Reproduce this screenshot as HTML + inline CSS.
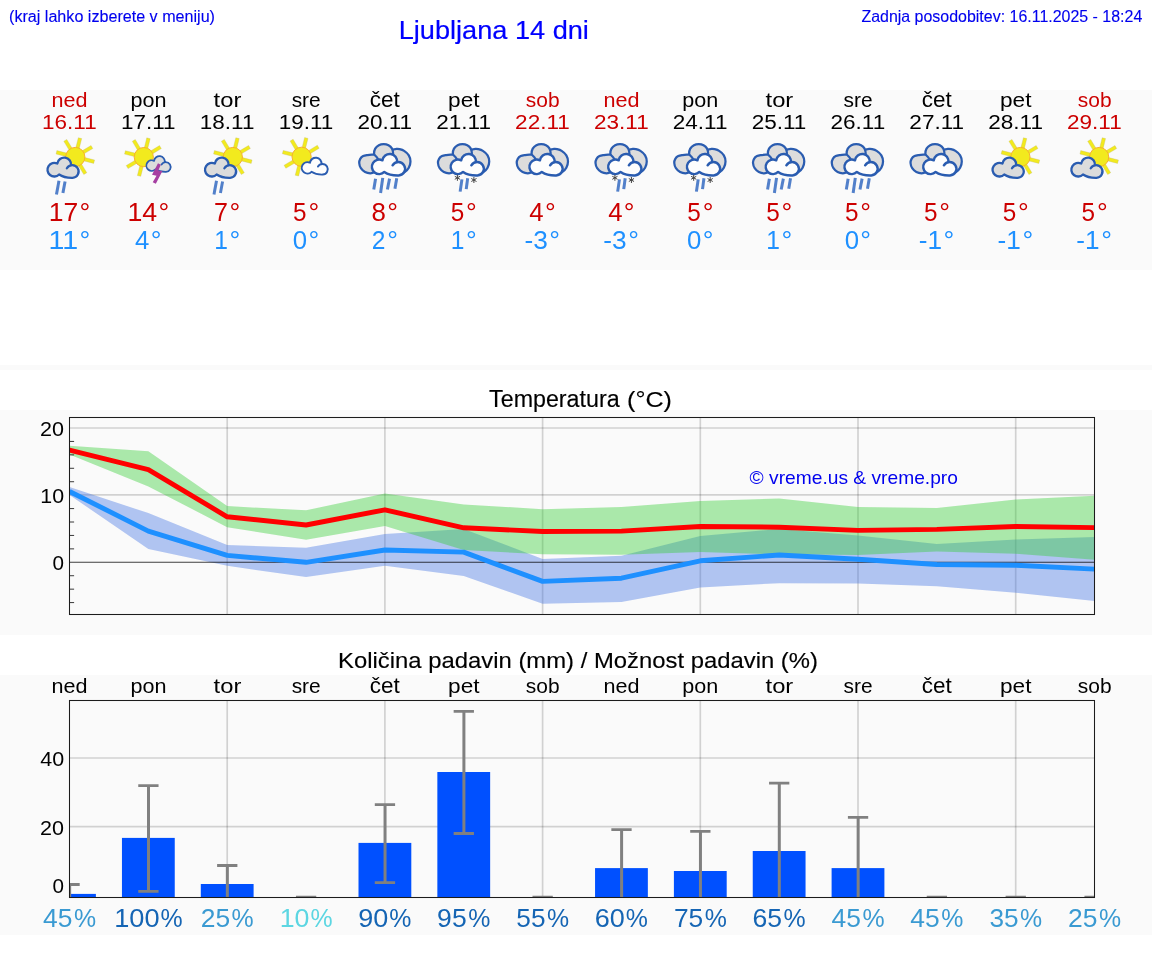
<!DOCTYPE html>
<html lang="sl"><head><meta charset="utf-8"><title>Ljubljana 14 dni</title>
<style>html,body{margin:0;padding:0;background:#fff;}body{width:1152px;height:975px;overflow:hidden;font-family:"Liberation Sans",sans-serif;}svg{display:block;will-change:transform;}</style></head>
<body>
<svg width="1152" height="975" viewBox="0 0 1152 975" font-family="'Liberation Sans', sans-serif">
<rect x="0" y="0" width="1152" height="975" fill="#ffffff"/>
<rect x="0" y="90" width="1152" height="180" fill="#fafafa"/>
<rect x="0" y="365" width="1152" height="5" fill="#fafafa"/>
<rect x="0" y="410" width="1152" height="225" fill="#fafafa"/>
<rect x="0" y="675" width="1152" height="260" fill="#fafafa"/>
<text x="9.03" y="22.00" font-size="16.00" textLength="205.98" lengthAdjust="spacingAndGlyphs" fill="#0000ee" stroke="#0000ee" stroke-width="0.12">(kraj lahko izberete v meniju)</text>
<text x="861.42" y="21.70" font-size="15.86" textLength="280.88" lengthAdjust="spacingAndGlyphs" fill="#0000ee" stroke="#0000ee" stroke-width="0.12">Zadnja posodobitev: 16.11.2025 - 18:24</text>
<text x="398.73" y="39.30" font-size="26.21" textLength="190.17" lengthAdjust="spacingAndGlyphs" fill="#0000ff" stroke="#0000ff" stroke-width="0.2">Ljubljana 14 dni</text>
<text x="489.12" y="407.20" font-size="23.04" textLength="130.46" lengthAdjust="spacingAndGlyphs" fill="#000000" stroke="#000000" stroke-width="0.15">Temperatura</text>
<text x="627.10" y="407.20" font-size="22.34" textLength="44.79" lengthAdjust="spacingAndGlyphs" fill="#000000" stroke="#000000" stroke-width="0.15">(°C)</text>
<text x="338.09" y="667.80" font-size="21.93" textLength="479.85" lengthAdjust="spacingAndGlyphs" fill="#000000" stroke="#000000" stroke-width="0.15">Količina padavin (mm) / Možnost padavin (%)</text>
<text x="51.54" y="106.75" font-size="20.37" textLength="36.02" lengthAdjust="spacingAndGlyphs" fill="#cc0000">ned</text>
<text x="42.13" y="129.25" font-size="20.56" textLength="54.59" lengthAdjust="spacingAndGlyphs" fill="#cc0000">16.11</text>
<text x="48.65" y="221.00" font-size="25.71" textLength="29.51" lengthAdjust="spacingAndGlyphs" fill="#cc0000">17</text>
<text x="79.58" y="221.00" font-size="25.69" textLength="10.75" lengthAdjust="spacingAndGlyphs" fill="#cc0000">°</text>
<text x="48.49" y="249.00" font-size="25.71" textLength="29.66" lengthAdjust="spacingAndGlyphs" fill="#1e90ff">11</text>
<text x="79.58" y="249.00" font-size="25.69" textLength="10.75" lengthAdjust="spacingAndGlyphs" fill="#1e90ff">°</text>
<text x="51.54" y="693.00" font-size="20.37" textLength="36.02" lengthAdjust="spacingAndGlyphs" fill="#000000">ned</text>
<text x="43.04" y="926.50" font-size="25.71" textLength="29.37" lengthAdjust="spacingAndGlyphs" fill="#3a9ad2">45</text>
<text x="73.88" y="926.50" font-size="25.87" textLength="22.13" lengthAdjust="spacingAndGlyphs" fill="#3a9ad2">%</text>
<text x="130.42" y="106.75" font-size="20.17" textLength="36.02" lengthAdjust="spacingAndGlyphs" fill="#000000">pon</text>
<text x="120.98" y="129.25" font-size="20.57" textLength="54.59" lengthAdjust="spacingAndGlyphs" fill="#000000">17.11</text>
<text x="127.48" y="221.00" font-size="25.71" textLength="29.72" lengthAdjust="spacingAndGlyphs" fill="#cc0000">14</text>
<text x="158.43" y="221.00" font-size="25.69" textLength="10.75" lengthAdjust="spacingAndGlyphs" fill="#cc0000">°</text>
<text x="135.11" y="249.00" font-size="25.71" textLength="14.33" lengthAdjust="spacingAndGlyphs" fill="#1e90ff">4</text>
<text x="150.70" y="249.00" font-size="25.69" textLength="10.75" lengthAdjust="spacingAndGlyphs" fill="#1e90ff">°</text>
<text x="130.42" y="693.00" font-size="20.17" textLength="36.02" lengthAdjust="spacingAndGlyphs" fill="#000000">pon</text>
<text x="114.24" y="926.50" font-size="25.69" textLength="45.38" lengthAdjust="spacingAndGlyphs" fill="#1565b4">100</text>
<text x="160.46" y="926.50" font-size="25.87" textLength="22.13" lengthAdjust="spacingAndGlyphs" fill="#1565b4">%</text>
<text x="213.58" y="106.75" font-size="20.94" textLength="27.78" lengthAdjust="spacingAndGlyphs" fill="#000000">tor</text>
<text x="199.83" y="129.25" font-size="20.56" textLength="54.59" lengthAdjust="spacingAndGlyphs" fill="#000000">18.11</text>
<text x="214.08" y="221.00" font-size="25.71" textLength="13.96" lengthAdjust="spacingAndGlyphs" fill="#cc0000">7</text>
<text x="229.55" y="221.00" font-size="25.69" textLength="10.75" lengthAdjust="spacingAndGlyphs" fill="#cc0000">°</text>
<text x="214.22" y="249.00" font-size="25.71" textLength="13.67" lengthAdjust="spacingAndGlyphs" fill="#1e90ff">1</text>
<text x="229.55" y="249.00" font-size="25.69" textLength="10.75" lengthAdjust="spacingAndGlyphs" fill="#1e90ff">°</text>
<text x="213.58" y="693.00" font-size="20.94" textLength="27.78" lengthAdjust="spacingAndGlyphs" fill="#000000">tor</text>
<text x="200.69" y="926.50" font-size="25.69" textLength="29.42" lengthAdjust="spacingAndGlyphs" fill="#3a9ad2">25</text>
<text x="231.58" y="926.50" font-size="25.87" textLength="22.13" lengthAdjust="spacingAndGlyphs" fill="#3a9ad2">%</text>
<text x="291.66" y="106.75" font-size="20.17" textLength="29.06" lengthAdjust="spacingAndGlyphs" fill="#000000">sre</text>
<text x="278.68" y="129.25" font-size="20.56" textLength="54.59" lengthAdjust="spacingAndGlyphs" fill="#000000">19.11</text>
<text x="293.09" y="221.00" font-size="25.71" textLength="13.51" lengthAdjust="spacingAndGlyphs" fill="#cc0000">5</text>
<text x="308.40" y="221.00" font-size="25.69" textLength="10.75" lengthAdjust="spacingAndGlyphs" fill="#cc0000">°</text>
<text x="292.79" y="249.00" font-size="25.69" textLength="14.37" lengthAdjust="spacingAndGlyphs" fill="#1e90ff">0</text>
<text x="308.40" y="249.00" font-size="25.69" textLength="10.75" lengthAdjust="spacingAndGlyphs" fill="#1e90ff">°</text>
<text x="291.66" y="693.00" font-size="20.17" textLength="29.06" lengthAdjust="spacingAndGlyphs" fill="#000000">sre</text>
<text x="279.71" y="926.50" font-size="25.69" textLength="29.75" lengthAdjust="spacingAndGlyphs" fill="#5cd6e2">10</text>
<text x="310.43" y="926.50" font-size="25.87" textLength="22.13" lengthAdjust="spacingAndGlyphs" fill="#5cd6e2">%</text>
<text x="369.82" y="106.75" font-size="21.45" textLength="29.98" lengthAdjust="spacingAndGlyphs" fill="#000000">čet</text>
<text x="357.41" y="129.25" font-size="20.56" textLength="54.72" lengthAdjust="spacingAndGlyphs" fill="#000000">20.11</text>
<text x="371.63" y="221.00" font-size="25.69" textLength="14.38" lengthAdjust="spacingAndGlyphs" fill="#cc0000">8</text>
<text x="387.25" y="221.00" font-size="25.69" textLength="10.75" lengthAdjust="spacingAndGlyphs" fill="#cc0000">°</text>
<text x="371.69" y="249.00" font-size="25.69" textLength="13.67" lengthAdjust="spacingAndGlyphs" fill="#1e90ff">2</text>
<text x="387.25" y="249.00" font-size="25.69" textLength="10.75" lengthAdjust="spacingAndGlyphs" fill="#1e90ff">°</text>
<text x="369.82" y="693.00" font-size="21.45" textLength="29.98" lengthAdjust="spacingAndGlyphs" fill="#000000">čet</text>
<text x="358.26" y="926.50" font-size="25.69" textLength="30.06" lengthAdjust="spacingAndGlyphs" fill="#1565b4">90</text>
<text x="389.28" y="926.50" font-size="25.87" textLength="22.13" lengthAdjust="spacingAndGlyphs" fill="#1565b4">%</text>
<text x="448.07" y="106.75" font-size="20.94" textLength="31.44" lengthAdjust="spacingAndGlyphs" fill="#000000">pet</text>
<text x="436.26" y="129.25" font-size="20.56" textLength="54.72" lengthAdjust="spacingAndGlyphs" fill="#000000">21.11</text>
<text x="450.79" y="221.00" font-size="25.71" textLength="13.51" lengthAdjust="spacingAndGlyphs" fill="#cc0000">5</text>
<text x="466.10" y="221.00" font-size="25.69" textLength="10.75" lengthAdjust="spacingAndGlyphs" fill="#cc0000">°</text>
<text x="450.77" y="249.00" font-size="25.71" textLength="13.67" lengthAdjust="spacingAndGlyphs" fill="#1e90ff">1</text>
<text x="466.10" y="249.00" font-size="25.69" textLength="10.75" lengthAdjust="spacingAndGlyphs" fill="#1e90ff">°</text>
<text x="448.07" y="693.00" font-size="20.94" textLength="31.44" lengthAdjust="spacingAndGlyphs" fill="#000000">pet</text>
<text x="437.13" y="926.50" font-size="25.69" textLength="29.54" lengthAdjust="spacingAndGlyphs" fill="#1565b4">95</text>
<text x="468.13" y="926.50" font-size="25.87" textLength="22.13" lengthAdjust="spacingAndGlyphs" fill="#1565b4">%</text>
<text x="525.86" y="106.75" font-size="20.37" textLength="33.79" lengthAdjust="spacingAndGlyphs" fill="#cc0000">sob</text>
<text x="515.11" y="129.25" font-size="20.56" textLength="54.72" lengthAdjust="spacingAndGlyphs" fill="#cc0000">22.11</text>
<text x="529.36" y="221.00" font-size="25.71" textLength="14.33" lengthAdjust="spacingAndGlyphs" fill="#cc0000">4</text>
<text x="544.95" y="221.00" font-size="25.69" textLength="10.75" lengthAdjust="spacingAndGlyphs" fill="#cc0000">°</text>
<text x="524.44" y="249.00" font-size="25.69" textLength="23.36" lengthAdjust="spacingAndGlyphs" fill="#1e90ff">-3</text>
<text x="549.34" y="249.00" font-size="25.69" textLength="10.75" lengthAdjust="spacingAndGlyphs" fill="#1e90ff">°</text>
<text x="525.86" y="693.00" font-size="20.37" textLength="33.79" lengthAdjust="spacingAndGlyphs" fill="#000000">sob</text>
<text x="516.37" y="926.50" font-size="25.71" textLength="29.14" lengthAdjust="spacingAndGlyphs" fill="#1565b4">55</text>
<text x="546.98" y="926.50" font-size="25.87" textLength="22.13" lengthAdjust="spacingAndGlyphs" fill="#1565b4">%</text>
<text x="603.49" y="106.75" font-size="20.37" textLength="36.02" lengthAdjust="spacingAndGlyphs" fill="#cc0000">ned</text>
<text x="593.96" y="129.25" font-size="20.56" textLength="54.72" lengthAdjust="spacingAndGlyphs" fill="#cc0000">23.11</text>
<text x="608.21" y="221.00" font-size="25.71" textLength="14.33" lengthAdjust="spacingAndGlyphs" fill="#cc0000">4</text>
<text x="623.80" y="221.00" font-size="25.69" textLength="10.75" lengthAdjust="spacingAndGlyphs" fill="#cc0000">°</text>
<text x="603.29" y="249.00" font-size="25.69" textLength="23.36" lengthAdjust="spacingAndGlyphs" fill="#1e90ff">-3</text>
<text x="628.19" y="249.00" font-size="25.69" textLength="10.75" lengthAdjust="spacingAndGlyphs" fill="#1e90ff">°</text>
<text x="603.49" y="693.00" font-size="20.37" textLength="36.02" lengthAdjust="spacingAndGlyphs" fill="#000000">ned</text>
<text x="594.79" y="926.50" font-size="25.69" textLength="30.08" lengthAdjust="spacingAndGlyphs" fill="#1565b4">60</text>
<text x="625.83" y="926.50" font-size="25.87" textLength="22.13" lengthAdjust="spacingAndGlyphs" fill="#1565b4">%</text>
<text x="682.37" y="106.75" font-size="20.17" textLength="36.02" lengthAdjust="spacingAndGlyphs" fill="#000000">pon</text>
<text x="672.81" y="129.25" font-size="20.56" textLength="54.72" lengthAdjust="spacingAndGlyphs" fill="#000000">24.11</text>
<text x="687.34" y="221.00" font-size="25.71" textLength="13.51" lengthAdjust="spacingAndGlyphs" fill="#cc0000">5</text>
<text x="702.65" y="221.00" font-size="25.69" textLength="10.75" lengthAdjust="spacingAndGlyphs" fill="#cc0000">°</text>
<text x="687.04" y="249.00" font-size="25.69" textLength="14.37" lengthAdjust="spacingAndGlyphs" fill="#1e90ff">0</text>
<text x="702.65" y="249.00" font-size="25.69" textLength="10.75" lengthAdjust="spacingAndGlyphs" fill="#1e90ff">°</text>
<text x="682.37" y="693.00" font-size="20.17" textLength="36.02" lengthAdjust="spacingAndGlyphs" fill="#000000">pon</text>
<text x="673.92" y="926.50" font-size="25.71" textLength="29.29" lengthAdjust="spacingAndGlyphs" fill="#1565b4">75</text>
<text x="704.68" y="926.50" font-size="25.87" textLength="22.13" lengthAdjust="spacingAndGlyphs" fill="#1565b4">%</text>
<text x="765.53" y="106.75" font-size="20.94" textLength="27.78" lengthAdjust="spacingAndGlyphs" fill="#000000">tor</text>
<text x="751.66" y="129.25" font-size="20.56" textLength="54.72" lengthAdjust="spacingAndGlyphs" fill="#000000">25.11</text>
<text x="766.19" y="221.00" font-size="25.71" textLength="13.51" lengthAdjust="spacingAndGlyphs" fill="#cc0000">5</text>
<text x="781.50" y="221.00" font-size="25.69" textLength="10.75" lengthAdjust="spacingAndGlyphs" fill="#cc0000">°</text>
<text x="766.17" y="249.00" font-size="25.71" textLength="13.67" lengthAdjust="spacingAndGlyphs" fill="#1e90ff">1</text>
<text x="781.50" y="249.00" font-size="25.69" textLength="10.75" lengthAdjust="spacingAndGlyphs" fill="#1e90ff">°</text>
<text x="765.53" y="693.00" font-size="20.94" textLength="27.78" lengthAdjust="spacingAndGlyphs" fill="#000000">tor</text>
<text x="752.52" y="926.50" font-size="25.69" textLength="29.55" lengthAdjust="spacingAndGlyphs" fill="#1565b4">65</text>
<text x="783.53" y="926.50" font-size="25.87" textLength="22.13" lengthAdjust="spacingAndGlyphs" fill="#1565b4">%</text>
<text x="843.61" y="106.75" font-size="20.17" textLength="29.06" lengthAdjust="spacingAndGlyphs" fill="#000000">sre</text>
<text x="830.51" y="129.25" font-size="20.56" textLength="54.72" lengthAdjust="spacingAndGlyphs" fill="#000000">26.11</text>
<text x="845.04" y="221.00" font-size="25.71" textLength="13.51" lengthAdjust="spacingAndGlyphs" fill="#cc0000">5</text>
<text x="860.35" y="221.00" font-size="25.69" textLength="10.75" lengthAdjust="spacingAndGlyphs" fill="#cc0000">°</text>
<text x="844.74" y="249.00" font-size="25.69" textLength="14.37" lengthAdjust="spacingAndGlyphs" fill="#1e90ff">0</text>
<text x="860.35" y="249.00" font-size="25.69" textLength="10.75" lengthAdjust="spacingAndGlyphs" fill="#1e90ff">°</text>
<text x="843.61" y="693.00" font-size="20.17" textLength="29.06" lengthAdjust="spacingAndGlyphs" fill="#000000">sre</text>
<text x="831.54" y="926.50" font-size="25.71" textLength="29.37" lengthAdjust="spacingAndGlyphs" fill="#3a9ad2">45</text>
<text x="862.38" y="926.50" font-size="25.87" textLength="22.13" lengthAdjust="spacingAndGlyphs" fill="#3a9ad2">%</text>
<text x="921.77" y="106.75" font-size="21.45" textLength="29.98" lengthAdjust="spacingAndGlyphs" fill="#000000">čet</text>
<text x="909.36" y="129.25" font-size="20.56" textLength="54.72" lengthAdjust="spacingAndGlyphs" fill="#000000">27.11</text>
<text x="923.89" y="221.00" font-size="25.71" textLength="13.51" lengthAdjust="spacingAndGlyphs" fill="#cc0000">5</text>
<text x="939.20" y="221.00" font-size="25.69" textLength="10.75" lengthAdjust="spacingAndGlyphs" fill="#cc0000">°</text>
<text x="918.69" y="249.00" font-size="25.71" textLength="23.24" lengthAdjust="spacingAndGlyphs" fill="#1e90ff">-1</text>
<text x="943.59" y="249.00" font-size="25.69" textLength="10.75" lengthAdjust="spacingAndGlyphs" fill="#1e90ff">°</text>
<text x="921.77" y="693.00" font-size="21.45" textLength="29.98" lengthAdjust="spacingAndGlyphs" fill="#000000">čet</text>
<text x="910.39" y="926.50" font-size="25.71" textLength="29.37" lengthAdjust="spacingAndGlyphs" fill="#3a9ad2">45</text>
<text x="941.23" y="926.50" font-size="25.87" textLength="22.13" lengthAdjust="spacingAndGlyphs" fill="#3a9ad2">%</text>
<text x="1000.02" y="106.75" font-size="20.94" textLength="31.44" lengthAdjust="spacingAndGlyphs" fill="#000000">pet</text>
<text x="988.21" y="129.25" font-size="20.56" textLength="54.72" lengthAdjust="spacingAndGlyphs" fill="#000000">28.11</text>
<text x="1002.74" y="221.00" font-size="25.71" textLength="13.51" lengthAdjust="spacingAndGlyphs" fill="#cc0000">5</text>
<text x="1018.05" y="221.00" font-size="25.69" textLength="10.75" lengthAdjust="spacingAndGlyphs" fill="#cc0000">°</text>
<text x="997.54" y="249.00" font-size="25.71" textLength="23.24" lengthAdjust="spacingAndGlyphs" fill="#1e90ff">-1</text>
<text x="1022.44" y="249.00" font-size="25.69" textLength="10.75" lengthAdjust="spacingAndGlyphs" fill="#1e90ff">°</text>
<text x="1000.02" y="693.00" font-size="20.94" textLength="31.44" lengthAdjust="spacingAndGlyphs" fill="#000000">pet</text>
<text x="989.47" y="926.50" font-size="25.69" textLength="29.14" lengthAdjust="spacingAndGlyphs" fill="#3a9ad2">35</text>
<text x="1020.08" y="926.50" font-size="25.87" textLength="22.13" lengthAdjust="spacingAndGlyphs" fill="#3a9ad2">%</text>
<text x="1077.81" y="106.75" font-size="20.37" textLength="33.79" lengthAdjust="spacingAndGlyphs" fill="#cc0000">sob</text>
<text x="1067.06" y="129.25" font-size="20.56" textLength="54.72" lengthAdjust="spacingAndGlyphs" fill="#cc0000">29.11</text>
<text x="1081.59" y="221.00" font-size="25.71" textLength="13.51" lengthAdjust="spacingAndGlyphs" fill="#cc0000">5</text>
<text x="1096.90" y="221.00" font-size="25.69" textLength="10.75" lengthAdjust="spacingAndGlyphs" fill="#cc0000">°</text>
<text x="1076.39" y="249.00" font-size="25.71" textLength="23.24" lengthAdjust="spacingAndGlyphs" fill="#1e90ff">-1</text>
<text x="1101.29" y="249.00" font-size="25.69" textLength="10.75" lengthAdjust="spacingAndGlyphs" fill="#1e90ff">°</text>
<text x="1077.81" y="693.00" font-size="20.37" textLength="33.79" lengthAdjust="spacingAndGlyphs" fill="#000000">sob</text>
<text x="1068.04" y="926.50" font-size="25.69" textLength="29.42" lengthAdjust="spacingAndGlyphs" fill="#3a9ad2">25</text>
<text x="1098.93" y="926.50" font-size="25.87" textLength="22.13" lengthAdjust="spacingAndGlyphs" fill="#3a9ad2">%</text>
<clipPath id="c1"><rect x="69.5" y="417.5" width="1025.0" height="197.0"/></clipPath>
<line x1="69.5" x2="1094.5" y1="428.0" y2="428.0" stroke="#000" stroke-opacity="0.16" stroke-width="1.7"/>
<line x1="69.5" x2="1094.5" y1="494.9" y2="494.9" stroke="#000" stroke-opacity="0.16" stroke-width="1.7"/>
<line x1="227.20" x2="227.20" y1="417.5" y2="614.5" stroke="#000" stroke-opacity="0.16" stroke-width="1.7"/>
<line x1="384.90" x2="384.90" y1="417.5" y2="614.5" stroke="#000" stroke-opacity="0.16" stroke-width="1.7"/>
<line x1="542.60" x2="542.60" y1="417.5" y2="614.5" stroke="#000" stroke-opacity="0.16" stroke-width="1.7"/>
<line x1="700.30" x2="700.30" y1="417.5" y2="614.5" stroke="#000" stroke-opacity="0.16" stroke-width="1.7"/>
<line x1="858.00" x2="858.00" y1="417.5" y2="614.5" stroke="#000" stroke-opacity="0.16" stroke-width="1.7"/>
<line x1="1015.70" x2="1015.70" y1="417.5" y2="614.5" stroke="#000" stroke-opacity="0.16" stroke-width="1.7"/>
<g clip-path="url(#c1)">
<polygon points="69.50,487.0 148.35,513.1 227.20,545.0 306.05,547.8 384.90,534.1 463.75,528.9 542.60,559.1 621.45,555.8 700.30,535.9 779.15,528.9 858.00,535.4 936.85,543.9 1015.70,539.6 1094.55,537.0 1094.55,601.0 1015.70,592.7 936.85,586.2 858.00,583.6 779.15,583.2 700.30,587.4 621.45,602.1 542.60,603.8 463.75,576.0 384.90,565.8 306.05,577.1 227.20,565.8 148.35,548.9 69.50,495.0" fill="#4174e4" fill-opacity="0.4"/>
<polygon points="69.50,445.8 148.35,451.2 227.20,506.1 306.05,510.3 384.90,493.6 463.75,504.4 542.60,509.2 621.45,507.0 700.30,500.9 779.15,498.5 858.00,507.0 936.85,508.1 1015.70,499.6 1094.55,495.7 1094.55,559.7 1015.70,553.7 936.85,551.5 858.00,555.0 779.15,554.3 700.30,552.1 621.45,554.8 542.60,554.3 463.75,550.0 384.90,526.1 306.05,539.8 227.20,527.2 148.35,486.4 69.50,454.5" fill="#32cd32" fill-opacity="0.4"/>
<line x1="69.5" x2="1094.5" y1="562.3" y2="562.3" stroke="#000" stroke-opacity="0.75" stroke-width="1.1"/>
<polyline points="69.50,491.4 148.35,531.1 227.20,555.4 306.05,562.3 384.90,550.0 463.75,552.1 542.60,581.4 621.45,578.2 700.30,560.8 779.15,555.0 858.00,559.3 936.85,564.5 1015.70,565.2 1094.55,569.1" fill="none" stroke="#1e90ff" stroke-width="4.9" stroke-linejoin="round"/>
<polyline points="69.50,450.1 148.35,469.7 227.20,516.8 306.05,525.0 384.90,509.8 463.75,527.8 542.60,531.5 621.45,531.1 700.30,526.5 779.15,527.2 858.00,530.4 936.85,529.4 1015.70,526.5 1094.55,527.6" fill="none" stroke="#ff0000" stroke-width="4.9" stroke-linejoin="round"/>
</g>
<line x1="69.5" x2="74.1" y1="602.59" y2="602.59" stroke="#222" stroke-width="0.9"/>
<line x1="69.5" x2="74.1" y1="589.16" y2="589.16" stroke="#222" stroke-width="0.9"/>
<line x1="69.5" x2="74.1" y1="575.73" y2="575.73" stroke="#222" stroke-width="0.9"/>
<line x1="69.5" x2="74.1" y1="548.87" y2="548.87" stroke="#222" stroke-width="0.9"/>
<line x1="69.5" x2="74.1" y1="535.44" y2="535.44" stroke="#222" stroke-width="0.9"/>
<line x1="69.5" x2="74.1" y1="522.01" y2="522.01" stroke="#222" stroke-width="0.9"/>
<line x1="69.5" x2="74.1" y1="508.58" y2="508.58" stroke="#222" stroke-width="0.9"/>
<line x1="69.5" x2="74.1" y1="481.72" y2="481.72" stroke="#222" stroke-width="0.9"/>
<line x1="69.5" x2="74.1" y1="468.29" y2="468.29" stroke="#222" stroke-width="0.9"/>
<line x1="69.5" x2="74.1" y1="454.86" y2="454.86" stroke="#222" stroke-width="0.9"/>
<line x1="69.5" x2="74.1" y1="441.43" y2="441.43" stroke="#222" stroke-width="0.9"/>
<rect x="69.5" y="417.5" width="1025.0" height="197.0" fill="none" stroke="#1c1c1c" stroke-width="1.05"/>
<text x="40.14" y="435.80" font-size="20.56" textLength="23.96" lengthAdjust="spacingAndGlyphs" fill="#000000">20</text>
<text x="40.30" y="502.70" font-size="20.56" textLength="23.80" lengthAdjust="spacingAndGlyphs" fill="#000000">10</text>
<text x="52.56" y="570.10" font-size="20.56" textLength="11.50" lengthAdjust="spacingAndGlyphs" fill="#000000">0</text>
<text x="749.61" y="483.80" font-size="17.76" textLength="208.31" lengthAdjust="spacingAndGlyphs" fill="#0000ee">© vreme.us &amp; vreme.pro</text>
<clipPath id="c2"><rect x="69.5" y="700.5" width="1025.0" height="197.0"/></clipPath>
<line x1="69.5" x2="1094.5" y1="758.0" y2="758.0" stroke="#000" stroke-opacity="0.16" stroke-width="1.7"/>
<line x1="69.5" x2="1094.5" y1="826.7" y2="826.7" stroke="#000" stroke-opacity="0.16" stroke-width="1.7"/>
<line x1="227.20" x2="227.20" y1="700.5" y2="897.5" stroke="#000" stroke-opacity="0.16" stroke-width="1.7"/>
<line x1="384.90" x2="384.90" y1="700.5" y2="897.5" stroke="#000" stroke-opacity="0.16" stroke-width="1.7"/>
<line x1="542.60" x2="542.60" y1="700.5" y2="897.5" stroke="#000" stroke-opacity="0.16" stroke-width="1.7"/>
<line x1="700.30" x2="700.30" y1="700.5" y2="897.5" stroke="#000" stroke-opacity="0.16" stroke-width="1.7"/>
<line x1="858.00" x2="858.00" y1="700.5" y2="897.5" stroke="#000" stroke-opacity="0.16" stroke-width="1.7"/>
<line x1="1015.70" x2="1015.70" y1="700.5" y2="897.5" stroke="#000" stroke-opacity="0.16" stroke-width="1.7"/>
<g clip-path="url(#c2)">
<rect x="43.10" y="893.9" width="52.8" height="5.6" fill="#0050ff"/>
<rect x="121.95" y="837.9" width="52.8" height="61.6" fill="#0050ff"/>
<rect x="200.80" y="884" width="52.8" height="15.5" fill="#0050ff"/>
<rect x="358.50" y="842.9" width="52.8" height="56.6" fill="#0050ff"/>
<rect x="437.35" y="772" width="52.8" height="127.5" fill="#0050ff"/>
<rect x="595.05" y="868.1" width="52.8" height="31.4" fill="#0050ff"/>
<rect x="673.90" y="871" width="52.8" height="28.5" fill="#0050ff"/>
<rect x="752.75" y="851" width="52.8" height="48.5" fill="#0050ff"/>
<rect x="831.60" y="868.1" width="52.8" height="31.4" fill="#0050ff"/>
<line x1="69.65" x2="69.65" y1="884.5" y2="905" stroke="#808080" stroke-width="3"/>
<line x1="59.40" x2="79.70" y1="884.5" y2="884.5" stroke="#808080" stroke-width="2.8"/>
<line x1="148.50" x2="148.50" y1="785.6" y2="891.3" stroke="#808080" stroke-width="3"/>
<line x1="138.25" x2="158.55" y1="785.6" y2="785.6" stroke="#808080" stroke-width="2.8"/>
<line x1="138.25" x2="158.55" y1="891.3" y2="891.3" stroke="#808080" stroke-width="2.8"/>
<line x1="227.35" x2="227.35" y1="865.5" y2="905" stroke="#808080" stroke-width="3"/>
<line x1="217.10" x2="237.40" y1="865.5" y2="865.5" stroke="#808080" stroke-width="2.8"/>
<line x1="306.20" x2="306.20" y1="897.2" y2="905" stroke="#808080" stroke-width="3"/>
<line x1="295.95" x2="316.25" y1="897.2" y2="897.2" stroke="#808080" stroke-width="2.8"/>
<line x1="385.05" x2="385.05" y1="804.6" y2="882.7" stroke="#808080" stroke-width="3"/>
<line x1="374.80" x2="395.10" y1="804.6" y2="804.6" stroke="#808080" stroke-width="2.8"/>
<line x1="374.80" x2="395.10" y1="882.7" y2="882.7" stroke="#808080" stroke-width="2.8"/>
<line x1="463.90" x2="463.90" y1="711.4" y2="833.5" stroke="#808080" stroke-width="3"/>
<line x1="453.65" x2="473.95" y1="711.4" y2="711.4" stroke="#808080" stroke-width="2.8"/>
<line x1="453.65" x2="473.95" y1="833.5" y2="833.5" stroke="#808080" stroke-width="2.8"/>
<line x1="542.75" x2="542.75" y1="897.2" y2="905" stroke="#808080" stroke-width="3"/>
<line x1="532.50" x2="552.80" y1="897.2" y2="897.2" stroke="#808080" stroke-width="2.8"/>
<line x1="621.60" x2="621.60" y1="829.6" y2="905" stroke="#808080" stroke-width="3"/>
<line x1="611.35" x2="631.65" y1="829.6" y2="829.6" stroke="#808080" stroke-width="2.8"/>
<line x1="700.45" x2="700.45" y1="831.4" y2="905" stroke="#808080" stroke-width="3"/>
<line x1="690.20" x2="710.50" y1="831.4" y2="831.4" stroke="#808080" stroke-width="2.8"/>
<line x1="779.30" x2="779.30" y1="783.2" y2="905" stroke="#808080" stroke-width="3"/>
<line x1="769.05" x2="789.35" y1="783.2" y2="783.2" stroke="#808080" stroke-width="2.8"/>
<line x1="858.15" x2="858.15" y1="817.3" y2="905" stroke="#808080" stroke-width="3"/>
<line x1="847.90" x2="868.20" y1="817.3" y2="817.3" stroke="#808080" stroke-width="2.8"/>
<line x1="937.00" x2="937.00" y1="897.2" y2="905" stroke="#808080" stroke-width="3"/>
<line x1="926.75" x2="947.05" y1="897.2" y2="897.2" stroke="#808080" stroke-width="2.8"/>
<line x1="1015.85" x2="1015.85" y1="897.2" y2="905" stroke="#808080" stroke-width="3"/>
<line x1="1005.60" x2="1025.90" y1="897.2" y2="897.2" stroke="#808080" stroke-width="2.8"/>
<line x1="1094.70" x2="1094.70" y1="897.2" y2="905" stroke="#808080" stroke-width="3"/>
<line x1="1084.45" x2="1104.75" y1="897.2" y2="897.2" stroke="#808080" stroke-width="2.8"/>
</g>
<rect x="69.5" y="700.5" width="1025.0" height="197.0" fill="none" stroke="#1c1c1c" stroke-width="1.05"/>
<text x="40.19" y="765.90" font-size="20.56" textLength="23.91" lengthAdjust="spacingAndGlyphs" fill="#000000">40</text>
<text x="40.14" y="834.90" font-size="20.56" textLength="23.96" lengthAdjust="spacingAndGlyphs" fill="#000000">20</text>
<text x="52.56" y="892.70" font-size="20.56" textLength="11.50" lengthAdjust="spacingAndGlyphs" fill="#000000">0</text>
<defs>
<path id="cl" d="M 430 505 A 88 88 0 1 1 510 638 C 440 640 370 625 322 592 A 95 95 0 1 1 297 440 A 95 95 0 1 1 488 465" stroke="#2a5cb0" stroke-width="32" stroke-linecap="round" stroke-linejoin="round"/>
<g id="rays"><rect id="ray0" x="8.5" y="-1.75" width="10.9" height="3.5" transform="rotate(14)" fill="#f2ea1e" stroke="#b9b36a" stroke-opacity="0.55" stroke-width="0.5"/><rect id="ray1" x="8.5" y="-1.75" width="10.9" height="3.5" transform="rotate(59)" fill="#f2ea1e" stroke="#b9b36a" stroke-opacity="0.55" stroke-width="0.5"/><rect id="ray2" x="8.5" y="-1.75" width="10.9" height="3.5" transform="rotate(104)" fill="#f2ea1e" stroke="#b9b36a" stroke-opacity="0.55" stroke-width="0.5"/><rect id="ray3" x="8.5" y="-1.75" width="10.9" height="3.5" transform="rotate(149)" fill="#f2ea1e" stroke="#b9b36a" stroke-opacity="0.55" stroke-width="0.5"/><rect id="ray4" x="8.5" y="-1.75" width="10.9" height="3.5" transform="rotate(194)" fill="#f2ea1e" stroke="#b9b36a" stroke-opacity="0.55" stroke-width="0.5"/><rect id="ray5" x="8.5" y="-1.75" width="10.9" height="3.5" transform="rotate(239)" fill="#f2ea1e" stroke="#b9b36a" stroke-opacity="0.55" stroke-width="0.5"/><rect id="ray6" x="8.5" y="-1.75" width="10.9" height="3.5" transform="rotate(284)" fill="#f2ea1e" stroke="#b9b36a" stroke-opacity="0.55" stroke-width="0.5"/><rect id="ray7" x="8.5" y="-1.75" width="10.9" height="3.5" transform="rotate(329)" fill="#f2ea1e" stroke="#b9b36a" stroke-opacity="0.55" stroke-width="0.5"/></g>
<circle id="disc" r="9.6" fill="#f2ea1e" stroke="#f6b030" stroke-width="1"/>
</defs>
<g transform="translate(75.30,157.00)">
<use href="#ray0"/>
<use href="#ray1"/>
<use href="#ray2"/>
<use href="#ray3"/>
<use href="#ray4"/>
<use href="#ray5"/>
<use href="#ray6"/>
<use href="#ray7"/>
<use href="#disc"/></g>
<use href="#cl" transform="translate(36.00,132) scale(0.07179)" fill="#dcdcdc"/>
<line x1="58.97" y1="180.80" x2="56.46" y2="194.50" stroke="#5280ca" stroke-width="3.0"/>
<line x1="65.07" y1="181.50" x2="62.92" y2="193.00" stroke="#5280ca" stroke-width="3.0"/>
<g transform="translate(143.78,157.10)">
<use href="#ray2"/>
<use href="#ray3"/>
<use href="#ray4"/>
<use href="#ray5"/>
<use href="#ray6"/>
<use href="#ray7"/>
<use href="#disc"/></g>
<use href="#cl" transform="translate(137.45,136.21) scale(0.05599)" fill="#dcdcdc"/>
<polygon points="157.99,163.37 160.86,164.81 158.28,170.41 162.44,171.12 155.84,183.83 152.75,182.25 156.49,175.79 152.03,174.71" fill="#a63fa2"/>
<g transform="translate(232.82,157.00)">
<use href="#ray0"/>
<use href="#ray1"/>
<use href="#ray2"/>
<use href="#ray3"/>
<use href="#ray4"/>
<use href="#ray5"/>
<use href="#ray6"/>
<use href="#ray7"/>
<use href="#disc"/></g>
<use href="#cl" transform="translate(193.52,132) scale(0.07179)" fill="#dcdcdc"/>
<line x1="216.49" y1="180.80" x2="213.98" y2="194.50" stroke="#5280ca" stroke-width="3.0"/>
<line x1="222.59" y1="181.50" x2="220.44" y2="193.00" stroke="#5280ca" stroke-width="3.0"/>
<g transform="translate(301.60,156.80)">
<use href="#ray2"/>
<use href="#ray3"/>
<use href="#ray4"/>
<use href="#ray5"/>
<use href="#ray6"/>
<use href="#ray7"/>
<use href="#disc"/></g>
<use href="#cl" transform="translate(292.19,136.33) scale(0.05994)" fill="#fdfdfd"/>
<path d="M393.18 149.61C394.22 148.84 395.26 149.07 396.31 148.99C397.35 148.91 398.13 148.82 399.43 149.15C400.73 149.47 402.56 149.88 404.12 150.92C405.68 151.95 407.75 153.59 408.81 155.34C409.87 157.10 410.47 159.38 410.47 161.44C410.47 163.49 409.78 165.91 408.81 167.69C407.83 169.47 406.20 171.07 404.64 172.11C403.08 173.16 401.17 173.89 399.43 173.94C397.70 173.98 395.79 173.50 394.22 172.38C392.66 171.25 391.01 169.16 390.06 167.17C389.10 165.17 388.49 162.65 388.49 160.40C388.49 158.14 389.28 155.42 390.06 153.62C390.84 151.83 392.14 150.39 393.18 149.61Z" fill="#dcdcdc" stroke="#2a5cb0" stroke-width="2.25" stroke-linejoin="round"/>
<path d="M374.07 153.62C374.07 151.98 374.41 150.08 375.21 148.68C376.01 147.27 377.43 145.94 378.86 145.19C380.29 144.43 382.20 144.13 383.81 144.15C385.41 144.16 387.15 144.58 388.49 145.29C389.84 146.00 391.12 147.11 391.88 148.42C392.64 149.72 393.08 151.37 393.08 153.10C393.08 154.84 392.73 157.31 391.88 158.83C391.03 160.35 389.36 161.51 387.97 162.22C386.58 162.93 385.11 163.15 383.55 163.10C381.98 163.06 379.99 162.71 378.60 161.96C377.21 161.20 375.97 159.96 375.21 158.57C374.46 157.18 374.07 155.27 374.07 153.62Z" fill="#dcdcdc" stroke="#2a5cb0" stroke-width="2.25" stroke-linejoin="round"/>
<path d="M359.22 163.00C359.12 161.44 359.60 159.98 360.26 158.83C360.93 157.69 362.00 156.75 363.23 156.12C364.47 155.50 366.23 155.32 367.66 155.08C369.09 154.85 370.77 154.77 371.83 154.72C372.89 154.67 373.34 154.52 374.01 154.77C374.69 155.02 375.30 155.64 375.89 156.23C376.48 156.82 377.02 157.49 377.56 158.31C378.09 159.14 378.79 160.05 379.12 161.18C379.45 162.31 379.71 163.74 379.54 165.08C379.36 166.43 378.88 168.08 378.08 169.25C377.27 170.42 375.99 171.45 374.69 172.11C373.39 172.78 371.87 173.29 370.26 173.26C368.66 173.23 366.62 172.80 365.06 171.96C363.49 171.12 361.86 169.70 360.89 168.21C359.92 166.72 359.33 164.56 359.22 163.00Z" fill="#dcdcdc" stroke="#2a5cb0" stroke-width="2.25" stroke-linejoin="round"/>
<use href="#cl" transform="translate(359.70,126.71) scale(0.07645)" fill="#fdfdfd"/>
<line x1="375.57" y1="178.66" x2="373.77" y2="189.43" stroke="#5280ca" stroke-width="3.0"/>
<line x1="382.74" y1="177.90" x2="380.59" y2="193.00" stroke="#5280ca" stroke-width="3.0"/>
<line x1="389.56" y1="178.66" x2="387.41" y2="189.43" stroke="#5280ca" stroke-width="3.0"/>
<line x1="396.74" y1="178.30" x2="394.94" y2="188.70" stroke="#5280ca" stroke-width="3.0"/>
<path d="M471.94 149.61C472.98 148.84 474.02 149.07 475.07 148.99C476.11 148.91 476.89 148.82 478.19 149.15C479.49 149.47 481.32 149.88 482.88 150.92C484.44 151.95 486.51 153.59 487.57 155.34C488.63 157.10 489.23 159.38 489.23 161.44C489.23 163.49 488.54 165.91 487.57 167.69C486.59 169.47 484.96 171.07 483.40 172.11C481.84 173.16 479.93 173.89 478.19 173.94C476.46 173.98 474.55 173.50 472.98 172.38C471.42 171.25 469.77 169.16 468.82 167.17C467.86 165.17 467.25 162.65 467.25 160.40C467.25 158.14 468.04 155.42 468.82 153.62C469.60 151.83 470.90 150.39 471.94 149.61Z" fill="#dcdcdc" stroke="#2a5cb0" stroke-width="2.25" stroke-linejoin="round"/>
<path d="M452.83 153.62C452.83 151.98 453.17 150.08 453.97 148.68C454.77 147.27 456.19 145.94 457.62 145.19C459.05 144.43 460.96 144.13 462.57 144.15C464.17 144.16 465.91 144.58 467.25 145.29C468.60 146.00 469.88 147.11 470.64 148.42C471.40 149.72 471.84 151.37 471.84 153.10C471.84 154.84 471.49 157.31 470.64 158.83C469.79 160.35 468.12 161.51 466.73 162.22C465.34 162.93 463.87 163.15 462.31 163.10C460.74 163.06 458.75 162.71 457.36 161.96C455.97 161.20 454.73 159.96 453.97 158.57C453.22 157.18 452.83 155.27 452.83 153.62Z" fill="#dcdcdc" stroke="#2a5cb0" stroke-width="2.25" stroke-linejoin="round"/>
<path d="M437.98 163.00C437.88 161.44 438.36 159.98 439.03 158.83C439.69 157.69 440.76 156.75 441.99 156.12C443.23 155.50 444.99 155.32 446.42 155.08C447.85 154.85 449.53 154.77 450.59 154.72C451.65 154.67 452.10 154.52 452.78 154.77C453.45 155.02 454.06 155.64 454.65 156.23C455.24 156.82 455.78 157.49 456.32 158.31C456.85 159.14 457.55 160.05 457.88 161.18C458.21 162.31 458.47 163.74 458.30 165.08C458.12 166.43 457.64 168.08 456.84 169.25C456.03 170.42 454.75 171.45 453.45 172.11C452.15 172.78 450.63 173.29 449.03 173.26C447.42 173.23 445.38 172.80 443.82 171.96C442.25 171.12 440.62 169.70 439.65 168.21C438.68 166.72 438.09 164.56 437.98 163.00Z" fill="#dcdcdc" stroke="#2a5cb0" stroke-width="2.25" stroke-linejoin="round"/>
<use href="#cl" transform="translate(438.46,126.71) scale(0.07645)" fill="#fdfdfd"/>
<line x1="461.93" y1="179.40" x2="460.14" y2="191.60" stroke="#5280ca" stroke-width="3.0"/>
<line x1="467.67" y1="178.30" x2="466.24" y2="189.10" stroke="#5280ca" stroke-width="3.0"/>
<path d="M457.40 174.80L457.40 180.80M454.80 176.30L460.00 179.30M460.00 176.30L454.80 179.30" stroke="#444" stroke-width="1" fill="none"/>
<path d="M473.90 177.00L473.90 183.00M471.30 178.50L476.50 181.50M476.50 178.50L471.30 181.50" stroke="#444" stroke-width="1" fill="none"/>
<path d="M550.70 149.61C551.74 148.84 552.78 149.07 553.83 148.99C554.87 148.91 555.65 148.82 556.95 149.15C558.25 149.47 560.08 149.88 561.64 150.92C563.20 151.95 565.27 153.59 566.33 155.34C567.39 157.10 567.99 159.38 567.99 161.44C567.99 163.49 567.30 165.91 566.33 167.69C565.35 169.47 563.72 171.07 562.16 172.11C560.60 173.16 558.69 173.89 556.95 173.94C555.22 173.98 553.31 173.50 551.74 172.38C550.18 171.25 548.53 169.16 547.58 167.17C546.62 165.17 546.01 162.65 546.01 160.40C546.01 158.14 546.80 155.42 547.58 153.62C548.36 151.83 549.66 150.39 550.70 149.61Z" fill="#dcdcdc" stroke="#2a5cb0" stroke-width="2.25" stroke-linejoin="round"/>
<path d="M531.59 153.62C531.59 151.98 531.93 150.08 532.73 148.68C533.53 147.27 534.95 145.94 536.38 145.19C537.81 144.43 539.72 144.13 541.33 144.15C542.93 144.16 544.67 144.58 546.01 145.29C547.36 146.00 548.64 147.11 549.40 148.42C550.16 149.72 550.60 151.37 550.60 153.10C550.60 154.84 550.25 157.31 549.40 158.83C548.55 160.35 546.88 161.51 545.49 162.22C544.10 162.93 542.63 163.15 541.07 163.10C539.50 163.06 537.51 162.71 536.12 161.96C534.73 161.20 533.49 159.96 532.73 158.57C531.98 157.18 531.59 155.27 531.59 153.62Z" fill="#dcdcdc" stroke="#2a5cb0" stroke-width="2.25" stroke-linejoin="round"/>
<path d="M516.74 163.00C516.64 161.44 517.12 159.98 517.78 158.83C518.45 157.69 519.52 156.75 520.75 156.12C521.99 155.50 523.75 155.32 525.18 155.08C526.61 154.85 528.29 154.77 529.35 154.72C530.41 154.67 530.86 154.52 531.53 154.77C532.21 155.02 532.82 155.64 533.41 156.23C534.00 156.82 534.54 157.49 535.08 158.31C535.61 159.14 536.31 160.05 536.64 161.18C536.97 162.31 537.23 163.74 537.06 165.08C536.88 166.43 536.40 168.08 535.60 169.25C534.79 170.42 533.51 171.45 532.21 172.11C530.91 172.78 529.39 173.29 527.78 173.26C526.18 173.23 524.14 172.80 522.58 171.96C521.01 171.12 519.38 169.70 518.41 168.21C517.44 166.72 516.85 164.56 516.74 163.00Z" fill="#dcdcdc" stroke="#2a5cb0" stroke-width="2.25" stroke-linejoin="round"/>
<use href="#cl" transform="translate(517.22,126.71) scale(0.07645)" fill="#fdfdfd"/>
<path d="M629.46 149.61C630.50 148.84 631.54 149.07 632.59 148.99C633.63 148.91 634.41 148.82 635.71 149.15C637.01 149.47 638.84 149.88 640.40 150.92C641.96 151.95 644.03 153.59 645.09 155.34C646.15 157.10 646.75 159.38 646.75 161.44C646.75 163.49 646.06 165.91 645.09 167.69C644.11 169.47 642.48 171.07 640.92 172.11C639.36 173.16 637.45 173.89 635.71 173.94C633.98 173.98 632.07 173.50 630.50 172.38C628.94 171.25 627.29 169.16 626.34 167.17C625.38 165.17 624.77 162.65 624.77 160.40C624.77 158.14 625.56 155.42 626.34 153.62C627.12 151.83 628.42 150.39 629.46 149.61Z" fill="#dcdcdc" stroke="#2a5cb0" stroke-width="2.25" stroke-linejoin="round"/>
<path d="M610.35 153.62C610.35 151.98 610.69 150.08 611.49 148.68C612.29 147.27 613.71 145.94 615.14 145.19C616.57 144.43 618.48 144.13 620.09 144.15C621.69 144.16 623.43 144.58 624.77 145.29C626.12 146.00 627.40 147.11 628.16 148.42C628.92 149.72 629.36 151.37 629.36 153.10C629.36 154.84 629.01 157.31 628.16 158.83C627.31 160.35 625.64 161.51 624.25 162.22C622.86 162.93 621.39 163.15 619.83 163.10C618.26 163.06 616.27 162.71 614.88 161.96C613.49 161.20 612.25 159.96 611.49 158.57C610.74 157.18 610.35 155.27 610.35 153.62Z" fill="#dcdcdc" stroke="#2a5cb0" stroke-width="2.25" stroke-linejoin="round"/>
<path d="M595.50 163.00C595.40 161.44 595.88 159.98 596.54 158.83C597.21 157.69 598.28 156.75 599.51 156.12C600.75 155.50 602.51 155.32 603.94 155.08C605.37 154.85 607.05 154.77 608.11 154.72C609.17 154.67 609.62 154.52 610.29 154.77C610.97 155.02 611.58 155.64 612.17 156.23C612.76 156.82 613.30 157.49 613.84 158.31C614.37 159.14 615.07 160.05 615.40 161.18C615.73 162.31 615.99 163.74 615.82 165.08C615.64 166.43 615.16 168.08 614.36 169.25C613.55 170.42 612.27 171.45 610.97 172.11C609.67 172.78 608.15 173.29 606.54 173.26C604.94 173.23 602.90 172.80 601.34 171.96C599.77 171.12 598.14 169.70 597.17 168.21C596.20 166.72 595.61 164.56 595.50 163.00Z" fill="#dcdcdc" stroke="#2a5cb0" stroke-width="2.25" stroke-linejoin="round"/>
<use href="#cl" transform="translate(595.98,126.71) scale(0.07645)" fill="#fdfdfd"/>
<line x1="619.45" y1="179.40" x2="617.66" y2="191.60" stroke="#5280ca" stroke-width="3.0"/>
<line x1="625.19" y1="178.30" x2="623.76" y2="189.10" stroke="#5280ca" stroke-width="3.0"/>
<path d="M614.92 174.80L614.92 180.80M612.32 176.30L617.52 179.30M617.52 176.30L612.32 179.30" stroke="#444" stroke-width="1" fill="none"/>
<path d="M631.42 177.00L631.42 183.00M628.82 178.50L634.02 181.50M634.02 178.50L628.82 181.50" stroke="#444" stroke-width="1" fill="none"/>
<path d="M708.22 149.61C709.26 148.84 710.30 149.07 711.35 148.99C712.39 148.91 713.17 148.82 714.47 149.15C715.77 149.47 717.60 149.88 719.16 150.92C720.72 151.95 722.79 153.59 723.85 155.34C724.91 157.10 725.51 159.38 725.51 161.44C725.51 163.49 724.82 165.91 723.85 167.69C722.87 169.47 721.24 171.07 719.68 172.11C718.12 173.16 716.21 173.89 714.47 173.94C712.74 173.98 710.83 173.50 709.26 172.38C707.70 171.25 706.05 169.16 705.10 167.17C704.14 165.17 703.53 162.65 703.53 160.40C703.53 158.14 704.32 155.42 705.10 153.62C705.88 151.83 707.18 150.39 708.22 149.61Z" fill="#dcdcdc" stroke="#2a5cb0" stroke-width="2.25" stroke-linejoin="round"/>
<path d="M689.11 153.62C689.11 151.98 689.45 150.08 690.25 148.68C691.05 147.27 692.47 145.94 693.90 145.19C695.33 144.43 697.24 144.13 698.85 144.15C700.45 144.16 702.19 144.58 703.53 145.29C704.88 146.00 706.16 147.11 706.92 148.42C707.68 149.72 708.12 151.37 708.12 153.10C708.12 154.84 707.77 157.31 706.92 158.83C706.07 160.35 704.40 161.51 703.01 162.22C701.62 162.93 700.15 163.15 698.59 163.10C697.02 163.06 695.03 162.71 693.64 161.96C692.25 161.20 691.01 159.96 690.25 158.57C689.50 157.18 689.11 155.27 689.11 153.62Z" fill="#dcdcdc" stroke="#2a5cb0" stroke-width="2.25" stroke-linejoin="round"/>
<path d="M674.26 163.00C674.16 161.44 674.64 159.98 675.30 158.83C675.97 157.69 677.04 156.75 678.27 156.12C679.51 155.50 681.27 155.32 682.70 155.08C684.13 154.85 685.81 154.77 686.87 154.72C687.93 154.67 688.38 154.52 689.05 154.77C689.73 155.02 690.34 155.64 690.93 156.23C691.52 156.82 692.06 157.49 692.60 158.31C693.13 159.14 693.83 160.05 694.16 161.18C694.49 162.31 694.75 163.74 694.58 165.08C694.40 166.43 693.92 168.08 693.12 169.25C692.31 170.42 691.03 171.45 689.73 172.11C688.43 172.78 686.91 173.29 685.30 173.26C683.70 173.23 681.66 172.80 680.10 171.96C678.53 171.12 676.90 169.70 675.93 168.21C674.96 166.72 674.37 164.56 674.26 163.00Z" fill="#dcdcdc" stroke="#2a5cb0" stroke-width="2.25" stroke-linejoin="round"/>
<use href="#cl" transform="translate(674.74,126.71) scale(0.07645)" fill="#fdfdfd"/>
<line x1="698.21" y1="179.40" x2="696.42" y2="191.60" stroke="#5280ca" stroke-width="3.0"/>
<line x1="703.95" y1="178.30" x2="702.52" y2="189.10" stroke="#5280ca" stroke-width="3.0"/>
<path d="M693.68 174.80L693.68 180.80M691.08 176.30L696.28 179.30M696.28 176.30L691.08 179.30" stroke="#444" stroke-width="1" fill="none"/>
<path d="M710.18 177.00L710.18 183.00M707.58 178.50L712.78 181.50M712.78 178.50L707.58 181.50" stroke="#444" stroke-width="1" fill="none"/>
<path d="M786.98 149.61C788.02 148.84 789.07 149.07 790.11 148.99C791.15 148.91 791.93 148.82 793.23 149.15C794.53 149.47 796.36 149.88 797.92 150.92C799.48 151.95 801.55 153.59 802.61 155.34C803.67 157.10 804.27 159.38 804.27 161.44C804.27 163.49 803.58 165.91 802.61 167.69C801.63 169.47 800.00 171.07 798.44 172.11C796.88 173.16 794.97 173.89 793.23 173.94C791.50 173.98 789.59 173.50 788.02 172.38C786.46 171.25 784.81 169.16 783.86 167.17C782.90 165.17 782.29 162.65 782.29 160.40C782.29 158.14 783.08 155.42 783.86 153.62C784.64 151.83 785.94 150.39 786.98 149.61Z" fill="#dcdcdc" stroke="#2a5cb0" stroke-width="2.25" stroke-linejoin="round"/>
<path d="M767.87 153.62C767.87 151.98 768.21 150.08 769.01 148.68C769.81 147.27 771.23 145.94 772.66 145.19C774.09 144.43 776.00 144.13 777.61 144.15C779.21 144.16 780.95 144.58 782.29 145.29C783.64 146.00 784.92 147.11 785.68 148.42C786.44 149.72 786.88 151.37 786.88 153.10C786.88 154.84 786.53 157.31 785.68 158.83C784.83 160.35 783.16 161.51 781.77 162.22C780.38 162.93 778.91 163.15 777.35 163.10C775.78 163.06 773.79 162.71 772.40 161.96C771.01 161.20 769.77 159.96 769.01 158.57C768.26 157.18 767.87 155.27 767.87 153.62Z" fill="#dcdcdc" stroke="#2a5cb0" stroke-width="2.25" stroke-linejoin="round"/>
<path d="M753.02 163.00C752.92 161.44 753.40 159.98 754.07 158.83C754.73 157.69 755.80 156.75 757.03 156.12C758.27 155.50 760.03 155.32 761.46 155.08C762.89 154.85 764.57 154.77 765.63 154.72C766.69 154.67 767.14 154.52 767.82 154.77C768.49 155.02 769.10 155.64 769.69 156.23C770.28 156.82 770.82 157.49 771.36 158.31C771.89 159.14 772.59 160.05 772.92 161.18C773.25 162.31 773.51 163.74 773.34 165.08C773.16 166.43 772.68 168.08 771.88 169.25C771.07 170.42 769.79 171.45 768.49 172.11C767.19 172.78 765.67 173.29 764.07 173.26C762.46 173.23 760.42 172.80 758.86 171.96C757.29 171.12 755.66 169.70 754.69 168.21C753.72 166.72 753.13 164.56 753.02 163.00Z" fill="#dcdcdc" stroke="#2a5cb0" stroke-width="2.25" stroke-linejoin="round"/>
<use href="#cl" transform="translate(753.50,126.71) scale(0.07645)" fill="#fdfdfd"/>
<line x1="769.37" y1="178.66" x2="767.57" y2="189.43" stroke="#5280ca" stroke-width="3.0"/>
<line x1="776.54" y1="177.90" x2="774.39" y2="193.00" stroke="#5280ca" stroke-width="3.0"/>
<line x1="783.36" y1="178.66" x2="781.21" y2="189.43" stroke="#5280ca" stroke-width="3.0"/>
<line x1="790.54" y1="178.30" x2="788.74" y2="188.70" stroke="#5280ca" stroke-width="3.0"/>
<path d="M865.74 149.61C866.78 148.84 867.83 149.07 868.87 148.99C869.91 148.91 870.69 148.82 871.99 149.15C873.29 149.47 875.12 149.88 876.68 150.92C878.24 151.95 880.31 153.59 881.37 155.34C882.43 157.10 883.03 159.38 883.03 161.44C883.03 163.49 882.34 165.91 881.37 167.69C880.39 169.47 878.76 171.07 877.20 172.11C875.64 173.16 873.73 173.89 871.99 173.94C870.26 173.98 868.35 173.50 866.78 172.38C865.22 171.25 863.57 169.16 862.62 167.17C861.66 165.17 861.05 162.65 861.05 160.40C861.05 158.14 861.84 155.42 862.62 153.62C863.40 151.83 864.70 150.39 865.74 149.61Z" fill="#dcdcdc" stroke="#2a5cb0" stroke-width="2.25" stroke-linejoin="round"/>
<path d="M846.63 153.62C846.63 151.98 846.97 150.08 847.77 148.68C848.57 147.27 849.99 145.94 851.42 145.19C852.85 144.43 854.76 144.13 856.37 144.15C857.97 144.16 859.71 144.58 861.05 145.29C862.40 146.00 863.68 147.11 864.44 148.42C865.20 149.72 865.64 151.37 865.64 153.10C865.64 154.84 865.29 157.31 864.44 158.83C863.59 160.35 861.92 161.51 860.53 162.22C859.14 162.93 857.67 163.15 856.11 163.10C854.54 163.06 852.55 162.71 851.16 161.96C849.77 161.20 848.53 159.96 847.77 158.57C847.02 157.18 846.63 155.27 846.63 153.62Z" fill="#dcdcdc" stroke="#2a5cb0" stroke-width="2.25" stroke-linejoin="round"/>
<path d="M831.78 163.00C831.68 161.44 832.16 159.98 832.83 158.83C833.49 157.69 834.56 156.75 835.79 156.12C837.03 155.50 838.79 155.32 840.22 155.08C841.65 154.85 843.33 154.77 844.39 154.72C845.45 154.67 845.90 154.52 846.58 154.77C847.25 155.02 847.86 155.64 848.45 156.23C849.04 156.82 849.58 157.49 850.12 158.31C850.65 159.14 851.35 160.05 851.68 161.18C852.01 162.31 852.27 163.74 852.10 165.08C851.92 166.43 851.44 168.08 850.64 169.25C849.83 170.42 848.55 171.45 847.25 172.11C845.95 172.78 844.43 173.29 842.83 173.26C841.22 173.23 839.18 172.80 837.62 171.96C836.05 171.12 834.42 169.70 833.45 168.21C832.48 166.72 831.89 164.56 831.78 163.00Z" fill="#dcdcdc" stroke="#2a5cb0" stroke-width="2.25" stroke-linejoin="round"/>
<use href="#cl" transform="translate(832.26,126.71) scale(0.07645)" fill="#fdfdfd"/>
<line x1="848.13" y1="178.66" x2="846.33" y2="189.43" stroke="#5280ca" stroke-width="3.0"/>
<line x1="855.30" y1="177.90" x2="853.15" y2="193.00" stroke="#5280ca" stroke-width="3.0"/>
<line x1="862.12" y1="178.66" x2="859.97" y2="189.43" stroke="#5280ca" stroke-width="3.0"/>
<line x1="869.30" y1="178.30" x2="867.50" y2="188.70" stroke="#5280ca" stroke-width="3.0"/>
<path d="M944.50 149.61C945.54 148.84 946.58 149.07 947.63 148.99C948.67 148.91 949.45 148.82 950.75 149.15C952.05 149.47 953.88 149.88 955.44 150.92C957.00 151.95 959.07 153.59 960.13 155.34C961.19 157.10 961.79 159.38 961.79 161.44C961.79 163.49 961.10 165.91 960.13 167.69C959.15 169.47 957.52 171.07 955.96 172.11C954.40 173.16 952.49 173.89 950.75 173.94C949.02 173.98 947.11 173.50 945.54 172.38C943.98 171.25 942.33 169.16 941.38 167.17C940.42 165.17 939.81 162.65 939.81 160.40C939.81 158.14 940.60 155.42 941.38 153.62C942.16 151.83 943.46 150.39 944.50 149.61Z" fill="#dcdcdc" stroke="#2a5cb0" stroke-width="2.25" stroke-linejoin="round"/>
<path d="M925.39 153.62C925.39 151.98 925.73 150.08 926.53 148.68C927.33 147.27 928.75 145.94 930.18 145.19C931.61 144.43 933.52 144.13 935.13 144.15C936.73 144.16 938.47 144.58 939.81 145.29C941.16 146.00 942.44 147.11 943.20 148.42C943.96 149.72 944.40 151.37 944.40 153.10C944.40 154.84 944.05 157.31 943.20 158.83C942.35 160.35 940.68 161.51 939.29 162.22C937.90 162.93 936.43 163.15 934.87 163.10C933.30 163.06 931.31 162.71 929.92 161.96C928.53 161.20 927.29 159.96 926.53 158.57C925.78 157.18 925.39 155.27 925.39 153.62Z" fill="#dcdcdc" stroke="#2a5cb0" stroke-width="2.25" stroke-linejoin="round"/>
<path d="M910.54 163.00C910.44 161.44 910.92 159.98 911.58 158.83C912.25 157.69 913.32 156.75 914.55 156.12C915.79 155.50 917.55 155.32 918.98 155.08C920.41 154.85 922.09 154.77 923.15 154.72C924.21 154.67 924.66 154.52 925.33 154.77C926.01 155.02 926.62 155.64 927.21 156.23C927.80 156.82 928.34 157.49 928.88 158.31C929.41 159.14 930.11 160.05 930.44 161.18C930.77 162.31 931.03 163.74 930.86 165.08C930.68 166.43 930.20 168.08 929.40 169.25C928.59 170.42 927.31 171.45 926.01 172.11C924.71 172.78 923.19 173.29 921.58 173.26C919.98 173.23 917.94 172.80 916.38 171.96C914.81 171.12 913.18 169.70 912.21 168.21C911.24 166.72 910.65 164.56 910.54 163.00Z" fill="#dcdcdc" stroke="#2a5cb0" stroke-width="2.25" stroke-linejoin="round"/>
<use href="#cl" transform="translate(911.02,126.71) scale(0.07645)" fill="#fdfdfd"/>
<g transform="translate(1020.42,157.00)">
<use href="#ray0"/>
<use href="#ray1"/>
<use href="#ray2"/>
<use href="#ray3"/>
<use href="#ray4"/>
<use href="#ray5"/>
<use href="#ray6"/>
<use href="#ray7"/>
<use href="#disc"/></g>
<use href="#cl" transform="translate(981.12,132) scale(0.07179)" fill="#dcdcdc"/>
<g transform="translate(1099.18,157.00)">
<use href="#ray0"/>
<use href="#ray1"/>
<use href="#ray2"/>
<use href="#ray3"/>
<use href="#ray4"/>
<use href="#ray5"/>
<use href="#ray6"/>
<use href="#ray7"/>
<use href="#disc"/></g>
<use href="#cl" transform="translate(1059.88,132) scale(0.07179)" fill="#dcdcdc"/>
</svg>
</body></html>
